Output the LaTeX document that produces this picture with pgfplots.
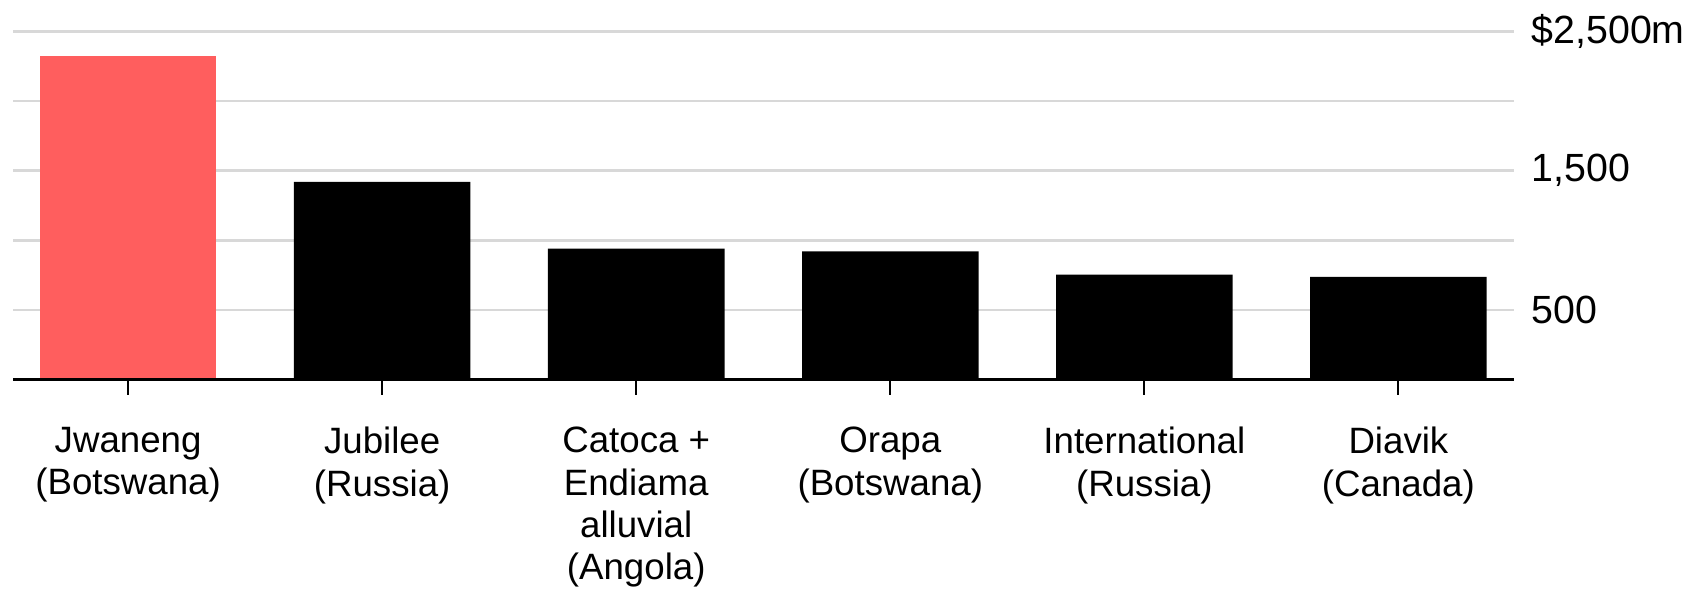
\documentclass[border=0pt]{standalone}
\usepackage{pgfplots}
\pgfplotsset{compat=1.18}
\usepackage{fontspec}
\setmainfont{Liberation Sans}
\definecolor{jred}{RGB}{255,94,94}
\definecolor{gridgray}{RGB}{216,216,216}
\begin{document}
\begin{tikzpicture}
\begin{axis}[
  width=450.3pt, height=104.5pt, scale only axis,
  xmin=-0.453, xmax=5.455, ymin=0, ymax=2500,
  enlargelimits=false,
  axis x line*=bottom, axis y line*=right,
  x axis line style={black, line width=0.8pt, -},
  y axis line style={draw=none},
  tick align=outside, major tick length=4.5pt,
  xtick={0,1,2,3,4,5},
  xticklabels={{Jwaneng\\(Botswana)},{Jubilee\\(Russia)},{Catoca +\\Endiama\\alluvial\\(Angola)},{Orapa\\(Botswana)},{International\\(Russia)},{Diavik\\(Canada)}},
  x tick style={black, line width=0.6pt},
  xticklabel style={align=center, anchor=north, inner sep=0pt, yshift=-9.6pt, font={\fontsize{11}{12.7}\selectfont}},
  ytick={500,1000,1500,2000,2500},
  yticklabels={500,{},{1,500},{},{\$2,500m}},
  y tick style={draw=none},
  yticklabel style={anchor=west, inner sep=0pt, xshift=0.6pt, font={\fontsize{11.8}{14}\selectfont}},
  ymajorgrids, grid style={gridgray, line width=0.85pt},
]
\addplot[ybar, bar shift=0pt, bar width=0.695, fill=jred, draw=none] coordinates {(0,2320)};
\addplot[ybar, bar shift=0pt, bar width=0.695, fill=black, draw=none] coordinates {(1,1419) (2,940) (3,921) (4,754) (5,737)};
\addplot[black, line width=0.8pt] coordinates {(-0.453,0) (5.455,0)};
\end{axis}
\pgfresetboundingbox
\path ([shift={(-3.9pt,-70pt)}]current axis.south west) rectangle ([shift={(51.6pt,9.4pt)}]current axis.north east);
\end{tikzpicture}
\end{document}
